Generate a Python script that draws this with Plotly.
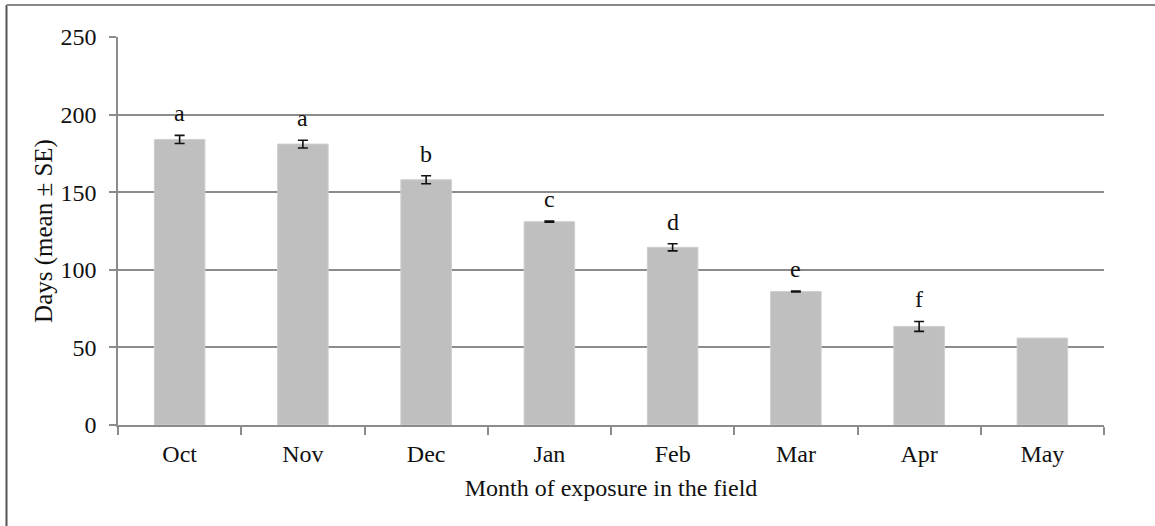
import plotly.graph_objects as go

months = ["Oct", "Nov", "Dec", "Jan", "Feb", "Mar", "Apr", "May"]
days_mean = [184, 181, 158, 131, 114.5, 86, 63.5, 56]
days_se = [2.6, 2.5, 2.6, 0.4, 2.3, 0.3, 3.2, None]
letters = ["a", "a", "b", "c", "d", "e", "f", ""]

W, H = 1155, 526
ml, mr, mt, mb = 118, 51, 37, 101
font_family = "Liberation Serif"

# months with an SE get error bars; the others (May) are drawn without
with_se = [i for i, s in enumerate(days_se) if s is not None]
without_se = [i for i, s in enumerate(days_se) if s is None]

bar_marker = dict(color="#bfbfbf", line=dict(color="#cdcdcd", width=1))
fig = go.Figure()
fig.add_trace(go.Bar(
    x=[months[i] for i in with_se], y=[days_mean[i] for i in with_se], width=0.41,
    marker=bar_marker,
    error_y=dict(type="data", array=[days_se[i] for i in with_se], visible=True,
                 color="#111111", thickness=1.6, width=5),
))
fig.add_trace(go.Bar(
    x=[months[i] for i in without_se], y=[days_mean[i] for i in without_se], width=0.41,
    marker=bar_marker,
))

for m, v, s, lab in zip(months, days_mean, days_se, letters):
    if lab:
        fig.add_annotation(x=m, y=v + (s or 0), text=lab, showarrow=False,
                           yanchor="bottom", yshift=7,
                           font=dict(family=font_family, size=24, color="#111111"))

pw = W - ml - mr
ph = H - mt - mb
# outer frame (left and top edges visible in the reference)
fx = (6.5 - ml) / pw
fy = 1 + (mt - 5) / ph
fig.add_shape(type="line", xref="paper", yref="paper", x0=fx, x1=fx, y0=-mb / ph - 0.01, y1=fy,
              line=dict(color="#555555", width=2))
fig.add_shape(type="line", xref="paper", yref="paper", x0=fx, x1=1 + mr / pw + 0.01, y0=fy, y1=fy,
              line=dict(color="#888888", width=2))

fig.update_layout(
    width=W, height=H,
    margin=dict(l=ml, r=mr, t=mt, b=mb),
    paper_bgcolor="white", plot_bgcolor="white",
    showlegend=False, barmode="overlay",
    font=dict(family=font_family, size=24, color="#111111"),
    xaxis=dict(
        type="category", categoryorder="array", categoryarray=months,
        tickson="boundaries", ticks="outside", ticklen=8,
        tickcolor="#8c8c8c", tickwidth=1.5,
        showline=True, linecolor="#8c8c8c", linewidth=1.5,
        showgrid=False, ticklabelstandoff=6,
        title=dict(text="Month of exposure in the field", standoff=14,
                   font=dict(size=24)),
        tickfont=dict(size=24),
    ),
    yaxis=dict(
        range=[0, 250], dtick=50, ticks="outside", ticklen=7,
        tickcolor="#8c8c8c", tickwidth=1.5,
        showline=True, linecolor="#8c8c8c", linewidth=1.5,
        showgrid=True, gridcolor="#8c8c8c", gridwidth=1.5,
        zeroline=False, ticklabelstandoff=8,
        title=dict(text="Days (mean ± SE)", standoff=1, font=dict(size=25)),
        tickfont=dict(size=24),
    ),
)

fig.write_html("out.html", config={"displayModeBar": False},
               post_script="document.body.style.margin='0';")
